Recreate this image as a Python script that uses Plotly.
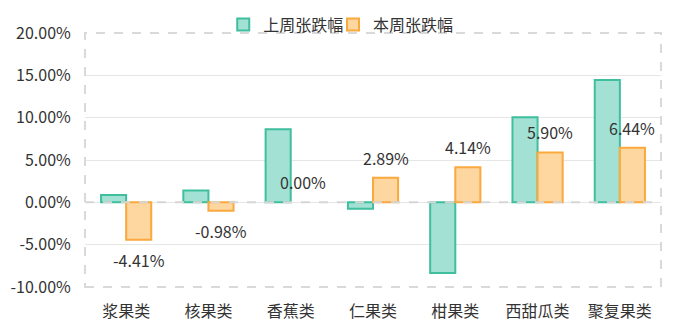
import plotly.graph_objects as go

categories = ["浆果类", "核果类", "香蕉类", "仁果类", "柑果类", "西甜瓜类", "聚复果类"]
last_week = [0.88, 1.40, 8.64, -0.77, -8.36, 10.06, 14.46]
this_week = [-4.41, -0.98, 0.00, 2.89, 4.14, 5.90, 6.44]
y_ticks = [-10, -5, 0, 5, 10, 15, 20]
y_tick_text = ["%.2f%%" % v for v in y_ticks]

FONT = "Noto Sans CJK SC, Microsoft YaHei, sans-serif"
TXT = "#333333"

fig = go.Figure()
fig.add_trace(go.Bar(
    name="上周张跌幅", x=categories, y=last_week, legend="legend",
    marker=dict(color="#a3e1d4", line=dict(color="#3fbf9d",
                width=[0 if v == 0 else 2 for v in last_week])),
))
fig.add_trace(go.Bar(
    name="本周张跌幅", x=categories, y=this_week, legend="legend2",
    marker=dict(color="#fed6a0", line=dict(color="#f9a93d",
                width=[0 if v == 0 else 2 for v in this_week])),
))

for c, v in zip(categories, this_week):
    fig.add_annotation(
        x=c, y=v, text="%.2f%%" % v, showarrow=False,
        xshift=12.5, yshift=(-20 if v < 0 else 20),
        font=dict(family=FONT, size=16, color=TXT),
    )

# zero line (dashed, above bars)
fig.add_shape(type="line", xref="paper", yref="y", x0=0, x1=1, y0=0, y1=0,
              line=dict(color="#d6d6d6", width=2, dash="dash"), layer="above")
# dashed plot border
fig.add_shape(type="rect", xref="paper", yref="paper", x0=0, x1=1, y0=0, y1=1,
              line=dict(color="#d9d9d9", width=2, dash="dash"), layer="above")

legend_common = dict(orientation="h", xanchor="left", y=1.033, yanchor="middle",
                     font=dict(family=FONT, size=16, color=TXT),
                     itemwidth=30, bgcolor="rgba(0,0,0,0)")

fig.update_layout(
    width=693, height=327,
    margin=dict(l=85, r=32, t=33, b=40, autoexpand=False),
    paper_bgcolor="white", plot_bgcolor="white",
    barmode="group", bargap=0.39, bargroupgap=0,
    font=dict(family=FONT, size=16, color=TXT),
    showlegend=True,
    legend=dict(x=0.240, **legend_common),
    legend2=dict(x=0.4306, **legend_common),
    xaxis=dict(showgrid=False, showline=False, zeroline=False, automargin=False,
               ticks="outside", ticklen=10, tickcolor="rgba(0,0,0,0)",
               tickfont=dict(family=FONT, size=16, color=TXT)),
    yaxis=dict(range=[-10, 20], tickvals=y_ticks, ticktext=y_tick_text,
               showgrid=True, gridcolor="#e6e6e6", gridwidth=1, automargin=False,
               zeroline=False, showline=False,
               ticks="outside", ticklen=10, tickcolor="rgba(0,0,0,0)",
               tickfont=dict(family=FONT, size=16, color=TXT)),
)

fig.write_html("out.html")
